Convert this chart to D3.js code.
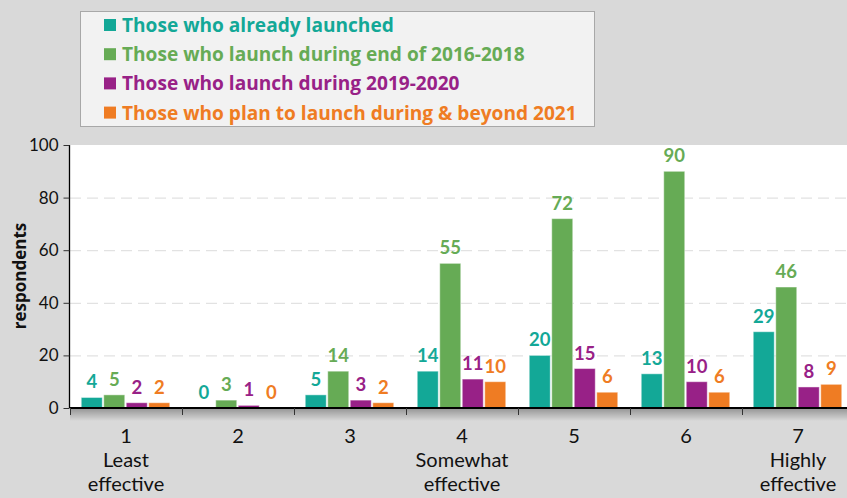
<!DOCTYPE html>
<html>
<head>
<meta charset="utf-8">
<script src="https://cdn.jsdelivr.net/npm/d3@7"></script>
<style>
  html, body { margin: 0; padding: 0; background: #d9d9d9; }
  svg { display: block; font-family: Lato, "Open Sans", sans-serif; }
</style>
</head>
<body>
<svg id="chart" width="847" height="498"></svg>
<script>
// Ratings on the 1–7 effectiveness scale
const categories = ["1", "2", "3", "4", "5", "6", "7"];
const categoryNotes = [["Least", "effective"], [], [], ["Somewhat", "effective"], [], [], ["Highly", "effective"]];

const seriesNames = [
  "Those who already launched",
  "Those who launch during end of 2016-2018",
  "Those who launch during 2019-2020",
  "Those who plan to launch during & beyond 2021"
];
const seriesColors = ["#13a897", "#66ab55", "#982187", "#ef7c23"];

const alreadyLaunched = [4, 0, 5, 14, 20, 13, 29];
const launch2016to2018 = [5, 3, 14, 55, 72, 90, 46];
const launch2019to2020 = [2, 1, 3, 11, 15, 10, 8];
const launch2021plus = [2, 0, 2, 10, 6, 6, 9];

const yTicks = [0, 20, 40, 60, 80, 100];

const seriesValues = [alreadyLaunched, launch2016to2018, launch2019to2020, launch2021plus];

const svg = d3.select("#chart");
const W = 847, H = 498;
const plotLeft = 70, plotBottom = 408, plotTop = 145;

const x = d3.scaleBand().domain(categories).range([plotLeft, plotLeft + 112 * categories.length]).padding(0);
const xSub = d3.scaleBand().domain(d3.range(seriesNames.length)).range([10.5, 100.5]).padding(0);
const y = d3.scaleLinear().domain([0, 100]).range([plotBottom, plotTop]);

// plot background
svg.append("rect").attr("x", plotLeft).attr("y", plotTop).attr("width", W - plotLeft).attr("height", plotBottom - plotTop).attr("fill", "#ffffff");

// soft shadow beneath the baseline
const defs = svg.append("defs");
const grad = defs.append("linearGradient").attr("id", "baseShadow").attr("x1", 0).attr("y1", 0).attr("x2", 0).attr("y2", 1);
grad.append("stop").attr("offset", "0%").attr("stop-color", "#000").attr("stop-opacity", 0.32);
grad.append("stop").attr("offset", "100%").attr("stop-color", "#000").attr("stop-opacity", 0);
svg.append("rect").attr("x", plotLeft).attr("y", plotBottom).attr("width", W - plotLeft).attr("height", 13).attr("fill", "url(#baseShadow)");

// dashed gridlines
svg.append("g").selectAll("line")
  .data(yTicks.filter(d => d > 0 && d < 100))
  .join("line")
  .attr("x1", plotLeft).attr("x2", W)
  .attr("y1", d => y(d) + 0.5).attr("y2", d => y(d) + 0.5)
  .attr("stroke", "#e2e2e2").attr("stroke-width", 1.2)
  .attr("stroke-dasharray", "11,6");

// bars
const groups = svg.append("g").selectAll("g")
  .data(categories)
  .join("g")
  .attr("transform", d => `translate(${x(d)},0)`);

groups.selectAll("rect")
  .data((c, i) => seriesValues.map((vals, s) => ({ s, v: vals[i] })))
  .join("rect")
  .attr("x", d => xSub(d.s) + 0.75)
  .attr("width", xSub.bandwidth() - 1.5)
  .attr("y", d => y(d.v))
  .attr("height", d => plotBottom - y(d.v))
  .attr("fill", d => seriesColors[d.s])
  .attr("stroke", "#ffffff").attr("stroke-opacity", 0.45).attr("stroke-width", 1);

// value labels
groups.selectAll("text")
  .data((c, i) => seriesValues.map((vals, s) => ({ s, v: vals[i] })))
  .join("text")
  .attr("x", d => xSub(d.s) + xSub.bandwidth() / 2)
  .attr("y", d => y(d.v) - 9)
  .attr("text-anchor", "middle")
  .attr("font-weight", 700)
  .attr("font-size", 18.5)
  .attr("fill", d => seriesColors[d.s])
  .text(d => d.v);

// y axis
const yAxis = d3.axisLeft(y).tickValues(yTicks).tickSize(6).tickPadding(5);
const gy = svg.append("g").attr("transform", `translate(${plotLeft - 0.5},0)`).call(yAxis);
gy.select(".domain").attr("stroke", "#000").attr("stroke-width", 1.3).attr("d", `M0,${plotTop}V${plotBottom}`);
gy.selectAll(".tick line").attr("stroke", "#333");
gy.selectAll(".tick text").attr("font-size", 17).attr("fill", "#111").attr("font-family", "Lato, sans-serif");

// x axis
const xAxis = d3.axisBottom(x).tickSize(0).tickFormat("");
const gx = svg.append("g").attr("transform", `translate(0,${plotBottom})`).call(xAxis);
gx.select(".domain").attr("stroke", "#000").attr("stroke-width", 2).attr("d", `M${plotLeft},0H${W}`);
gx.append("g").selectAll("line")
  .data(categories)
  .join("line")
  .attr("x1", d => x(d) + 0.5).attr("x2", d => x(d) + 0.5)
  .attr("y1", 0).attr("y2", 7)
  .attr("stroke", "#333").attr("stroke-width", 1);

const catLabels = svg.append("g").selectAll("text")
  .data(categories)
  .join("text")
  .attr("x", d => x(d) + x.bandwidth() / 2)
  .attr("text-anchor", "middle")
  .attr("font-size", 20)
  .attr("fill", "#111");
catLabels.each(function (d, i) {
  const t = d3.select(this);
  [d].concat(categoryNotes[i]).forEach((line, k) => {
    t.append("tspan").attr("x", x(d) + x.bandwidth() / 2).attr("y", 443 + k * 24).text(line);
  });
});

// y axis title
svg.append("text")
  .attr("transform", "translate(26,276) rotate(-90)")
  .attr("text-anchor", "middle")
  .attr("font-family", "'Open Sans', sans-serif")
  .attr("font-weight", 700)
  .attr("font-size", 17)
  .attr("fill", "#111")
  .text("respondents");

// legend
const legend = svg.append("g");
legend.append("rect")
  .attr("x", 80.5).attr("y", 11.5).attr("width", 514).attr("height", 115)
  .attr("fill", "#f2f2f2").attr("stroke", "#a8a8a8").attr("stroke-width", 1);
const items = legend.selectAll("g.item")
  .data(seriesNames)
  .join("g")
  .attr("class", "item")
  .attr("transform", (d, i) => `translate(104,${25 + i * 29.2})`);
items.append("rect")
  .attr("x", 0).attr("y", -6).attr("width", 12).attr("height", 12)
  .attr("fill", (d, i) => seriesColors[i]);
items.append("text")
  .attr("x", 18).attr("y", 7)
  .attr("font-family", "'Open Sans', sans-serif")
  .attr("font-weight", 700)
  .attr("font-size", 19.1)
  .attr("fill", (d, i) => seriesColors[i])
  .text(d => d);
</script>
</body>
</html>
